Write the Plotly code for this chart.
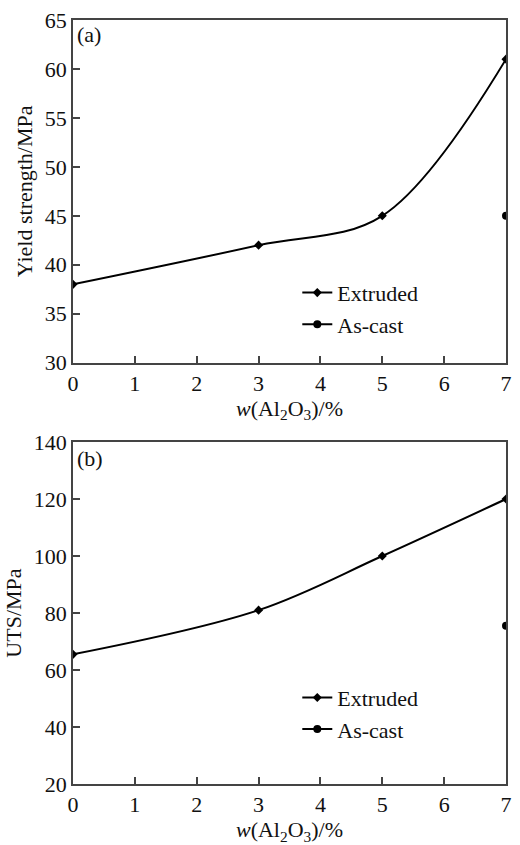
import plotly.graph_objects as go

x_ext = [0, 3, 5, 7]
ys_ext = [38, 42, 45, 61]
ys_cast_x = [7]
ys_cast = [45]
uts_ext = [65.5, 81, 100, 120]
uts_cast_x = [7]
uts_cast = [75.5]
x_ticks = [0, 1, 2, 3, 4, 5, 6, 7]

FONT = "Liberation Serif"
fig = go.Figure()

fig.add_trace(go.Scatter(x=x_ext, y=ys_ext, mode="lines+markers", name="Extruded",
                         line=dict(color="black", width=2, shape="spline", smoothing=1),
                         marker=dict(symbol="diamond", size=7, color="black"),
                         xaxis="x", yaxis="y", legend="legend"))
fig.add_trace(go.Scatter(x=ys_cast_x, y=ys_cast, mode="lines+markers", name="As-cast",
                         line=dict(color="black", width=2),
                         marker=dict(symbol="circle", size=8, color="black"),
                         xaxis="x", yaxis="y", legend="legend"))
fig.add_trace(go.Scatter(x=x_ext, y=uts_ext, mode="lines+markers", name="Extruded",
                         line=dict(color="black", width=2, shape="spline", smoothing=1),
                         marker=dict(symbol="diamond", size=7, color="black"),
                         xaxis="x2", yaxis="y2", legend="legend2"))
fig.add_trace(go.Scatter(x=uts_cast_x, y=uts_cast, mode="lines+markers", name="As-cast",
                         line=dict(color="black", width=2),
                         marker=dict(symbol="circle", size=8, color="black"),
                         xaxis="x2", yaxis="y2", legend="legend2"))

xt = "<i>w</i>(Al<sub>2</sub>O<sub>3</sub>)/%"
axis_common = dict(showline=True, linecolor="#444", linewidth=1.5, mirror=True,
                   ticks="inside", ticklen=7, tickcolor="#444", tickwidth=1.5,
                   showgrid=False, zeroline=False,
                   tickfont=dict(family=FONT, size=22, color="#111"))

fig.update_layout(
    width=520, height=845,
    margin=dict(l=73, r=8, t=13, b=56),
    plot_bgcolor="white", paper_bgcolor="white",
    font=dict(family=FONT, size=22, color="#111"),
    xaxis=dict(domain=[0, 1], range=[0, 7], tickvals=x_ticks, anchor="y",
               title=dict(text=xt, standoff=4, font=dict(family=FONT, size=22)), **axis_common),
    yaxis=dict(domain=[0.5515, 1.0], range=[30, 65], dtick=5, anchor="x",
               title=dict(text="Yield strength/MPa", standoff=6, font=dict(family=FONT, size=22)),
               **axis_common),
    xaxis2=dict(domain=[0, 1], range=[0, 7], tickvals=x_ticks, anchor="y2",
                title=dict(text=xt, standoff=4, font=dict(family=FONT, size=22)), **axis_common),
    yaxis2=dict(domain=[0, 0.4476], range=[20, 140], dtick=20, anchor="x2",
                title=dict(text="UTS/MPa", standoff=6, font=dict(family=FONT, size=22)),
                **axis_common),
    legend=dict(x=0.518, y=0.622, xanchor="left", yanchor="middle", bgcolor="rgba(0,0,0,0)",
                font=dict(family=FONT, size=22), itemwidth=30, tracegroupgap=0),
    legend2=dict(x=0.518, y=0.092, xanchor="left", yanchor="middle", bgcolor="rgba(0,0,0,0)",
                 font=dict(family=FONT, size=22), itemwidth=30, tracegroupgap=0),
    showlegend=True,
    annotations=[
        dict(text="(a)", xref="x domain", yref="y domain", x=0.005, y=1.0,
             xanchor="left", yanchor="top", showarrow=False, font=dict(family=FONT, size=22)),
        dict(text="(b)", xref="x2 domain", yref="y2 domain", x=0.005, y=0.995,
             xanchor="left", yanchor="top", showarrow=False, font=dict(family=FONT, size=22)),
    ],
)

fig.write_html("out.html")
